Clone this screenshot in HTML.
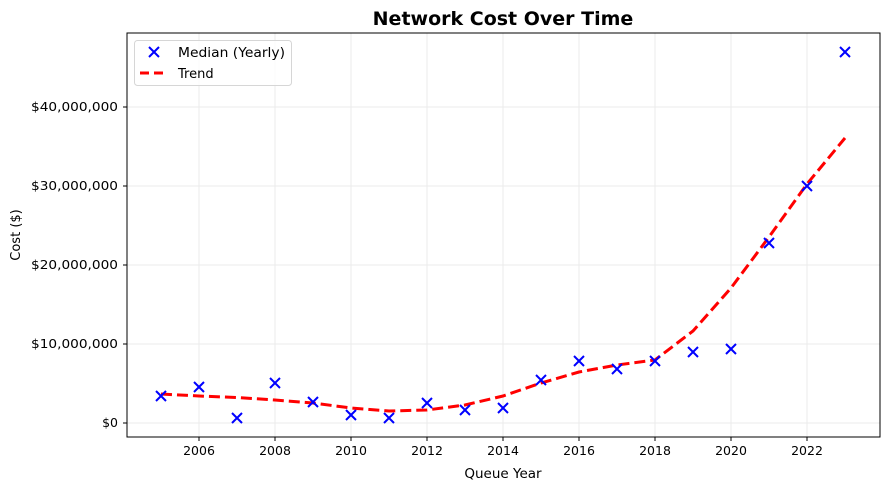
<!DOCTYPE html>
<html><head><meta charset="utf-8"><style>
html,body{margin:0;padding:0;background:#fff;}
svg text{font-family:"DejaVu Sans","Liberation Sans",sans-serif;fill:#000;}
</style></head><body>
<svg width="889" height="490" xmlns="http://www.w3.org/2000/svg">
<g stroke="#ebebeb" stroke-width="1">
<line x1="199" y1="33" x2="199" y2="437"/><line x1="275" y1="33" x2="275" y2="437"/>
<line x1="351" y1="33" x2="351" y2="437"/><line x1="427" y1="33" x2="427" y2="437"/>
<line x1="503" y1="33" x2="503" y2="437"/><line x1="579" y1="33" x2="579" y2="437"/>
<line x1="655" y1="33" x2="655" y2="437"/><line x1="731" y1="33" x2="731" y2="437"/>
<line x1="807" y1="33" x2="807" y2="437"/>
<line x1="127" y1="423" x2="880" y2="423"/><line x1="127" y1="344" x2="880" y2="344"/>
<line x1="127" y1="265" x2="880" y2="265"/><line x1="127" y1="186" x2="880" y2="186"/>
<line x1="127" y1="107" x2="880" y2="107"/>
</g>
<polyline fill="none" stroke="#ff0000" stroke-width="3" stroke-dasharray="11,5"
points="161,394 199,396 237,397.5 275,400 313,403 351,408 389,411 427,410 465,405 503,396 541,383 579,372 617,365 655,360 693,331 731,288 769,237 807,184 845,138"/>
<g stroke="#0000ff" stroke-width="2" fill="none">
<path d="M156,391l10,10m0,-10l-10,10"/>
<path d="M194,382l10,10m0,-10l-10,10"/>
<path d="M232,413l10,10m0,-10l-10,10"/>
<path d="M270,378l10,10m0,-10l-10,10"/>
<path d="M308,397l10,10m0,-10l-10,10"/>
<path d="M346,410l10,10m0,-10l-10,10"/>
<path d="M384,413l10,10m0,-10l-10,10"/>
<path d="M422,398l10,10m0,-10l-10,10"/>
<path d="M460,405l10,10m0,-10l-10,10"/>
<path d="M498,403l10,10m0,-10l-10,10"/>
<path d="M536,375l10,10m0,-10l-10,10"/>
<path d="M574,356l10,10m0,-10l-10,10"/>
<path d="M612,364l10,10m0,-10l-10,10"/>
<path d="M650,356l10,10m0,-10l-10,10"/>
<path d="M688,347l10,10m0,-10l-10,10"/>
<path d="M726,344l10,10m0,-10l-10,10"/>
<path d="M764,238l10,10m0,-10l-10,10"/>
<path d="M802,181l10,10m0,-10l-10,10"/>
<path d="M840,47l10,10m0,-10l-10,10"/>
</g>
<rect x="127" y="33" width="753" height="404" fill="none" stroke="#000" stroke-width="1"/>
<g stroke="#000" stroke-width="1">
<line x1="199" y1="437" x2="199" y2="441"/><line x1="275" y1="437" x2="275" y2="441"/>
<line x1="351" y1="437" x2="351" y2="441"/><line x1="427" y1="437" x2="427" y2="441"/>
<line x1="503" y1="437" x2="503" y2="441"/><line x1="579" y1="437" x2="579" y2="441"/>
<line x1="655" y1="437" x2="655" y2="441"/><line x1="731" y1="437" x2="731" y2="441"/>
<line x1="807" y1="437" x2="807" y2="441"/>
<line x1="123" y1="423" x2="127" y2="423"/><line x1="123" y1="344" x2="127" y2="344"/>
<line x1="123" y1="265" x2="127" y2="265"/><line x1="123" y1="186" x2="127" y2="186"/>
<line x1="123" y1="107" x2="127" y2="107"/>
</g>
<g font-size="12.5" text-anchor="middle">
<text x="199" y="455">2006</text><text x="275" y="455">2008</text><text x="351" y="455">2010</text>
<text x="427" y="455">2012</text><text x="503" y="455">2014</text><text x="579" y="455">2016</text>
<text x="655" y="455">2018</text><text x="731" y="455">2020</text><text x="807" y="455">2022</text>
</g>
<g font-size="12.5" text-anchor="end">
<text x="118" y="427">$0</text>
<text x="118" y="348" textLength="87" lengthAdjust="spacingAndGlyphs">$10,000,000</text>
<text x="118" y="269" textLength="87" lengthAdjust="spacingAndGlyphs">$20,000,000</text>
<text x="118" y="190" textLength="87" lengthAdjust="spacingAndGlyphs">$30,000,000</text>
<text x="118" y="111" textLength="87" lengthAdjust="spacingAndGlyphs">$40,000,000</text>
</g>
<text x="503" y="478" font-size="13.5" text-anchor="middle">Queue Year</text>
<text transform="translate(20,235) rotate(-90)" font-size="13" text-anchor="middle">Cost ($)</text>
<text x="503" y="25" font-size="19" font-weight="bold" text-anchor="middle">Network Cost Over Time</text>
<rect x="134.5" y="40.5" width="157" height="45" rx="3" fill="#fff" fill-opacity="0.8" stroke="#d6d6d6"/>
<path d="M149,47l10,10m0,-10l-10,10" stroke="#0000ff" stroke-width="2"/>
<line x1="140" y1="73" x2="168" y2="73" stroke="#ff0000" stroke-width="3" stroke-dasharray="9,5"/>
<text x="178" y="57" font-size="13" textLength="107" lengthAdjust="spacingAndGlyphs">Median (Yearly)</text>
<text x="178" y="78" font-size="13">Trend</text>
</svg>
</body></html>
